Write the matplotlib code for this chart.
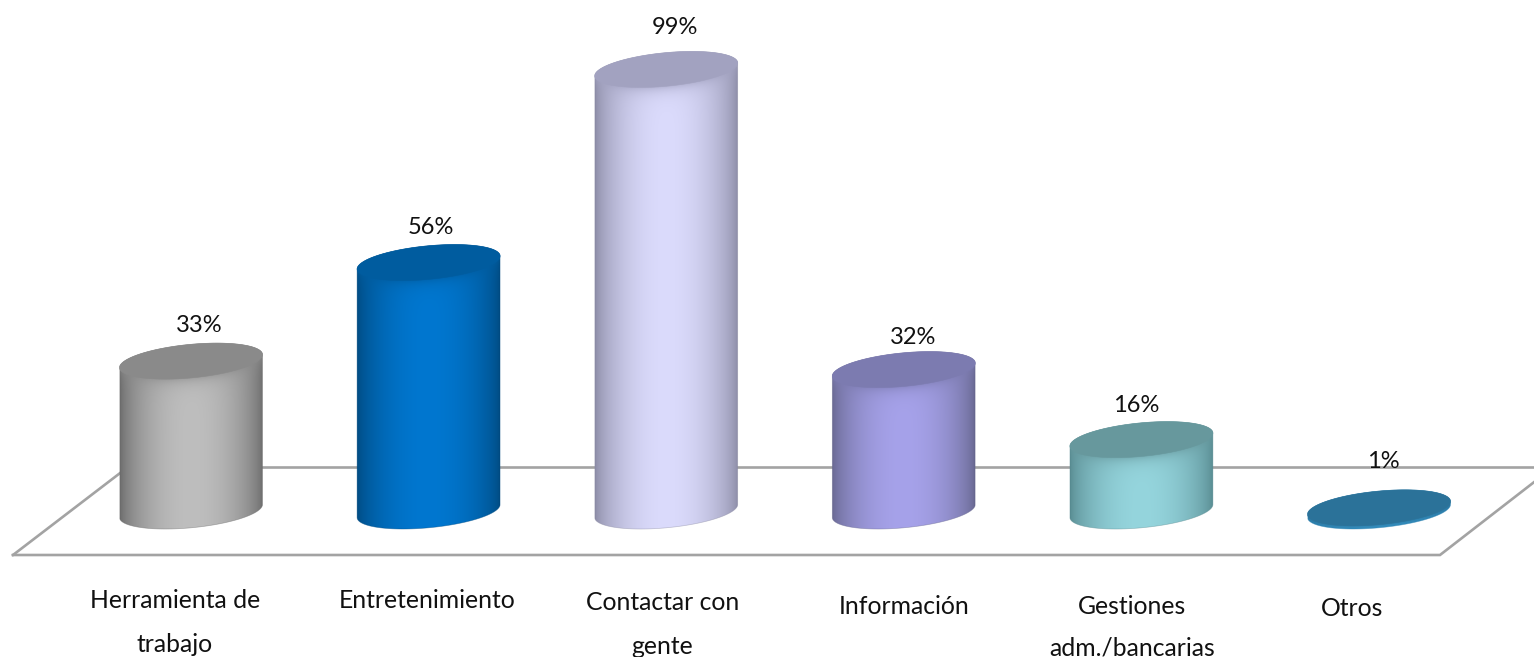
import numpy as np
import matplotlib
matplotlib.use("Agg")
import matplotlib.pyplot as plt
from matplotlib.colors import to_rgb
from matplotlib.patches import Polygon

categories = ["Herramienta de\ntrabajo", "Entretenimiento", "Contactar con\ngente",
              "Información", "Gestiones\nadm./bancarias", "Otros"]
values = [33.6, 55.7, 99, 31.7, 16, 0.7]
value_labels = ["33%", "56%", "99%", "32%", "16%", "1%"]

# styles
top_colors = ["#8a8a8a", "#005c9f", "#a2a2c0", "#7c7bb0", "#67989d", "#2b7299"]
edge_colors = ["#6a6a6a", "#004a80", "#8a8aa4", "#66668e", "#578a90", "#2a80b0"]
center_colors = ["#bebebe", "#0077d0", "#dbdbfc", "#a6a2ea", "#95d5dd", "#3aa0d6"]

# layout (pixels of the 1534x657 figure)
W, H = 1534, 657
X0, DX = 191.0, 237.6      # category 0 centre, category spacing
Y0, DY = 511.0, 4.46       # value 0 row, pixels per unit
label_dx = [8, 2, 9, 9, -5, 4]
label_py = [325, 228, 27, 338, 406, 461]
cat_dx = [-16, -1, -4, 0, -9, -27]
cat_py = [[600, 645], [601], [603, 646], [606], [607, 648], [608]]
FONT = "Lato"
FS_CAT = 17.8
FS_VAL = 17.0

fig = plt.figure(figsize=(W / 100, H / 100), dpi=100, facecolor="white")
ax = fig.add_axes([0, 0, 1, 1])
ax.axis("off")
xlim = ((0 - X0) / DX, (W - X0) / DX)
ylim = ((Y0 - H) / DY, (Y0 - 0) / DY)

px = lambda p: (p - X0) / DX
py = lambda p: (Y0 - p) / DY

# floor frame
line_c = "#a3a3a3"
lw = 1.9
ax.plot([px(13), px(1440), px(1560)], [py(555), py(555), py(462)], color=line_c, lw=lw, zorder=1,
        solid_joinstyle="miter")
ax.plot([px(13), px(128)], [py(555), py(467)], color=line_c, lw=lw, zorder=1)
ax.plot([px(128), px(1534)], [py(467), py(467)], color=line_c, lw=lw, zorder=1)

HALF = 71.5 / DX
TILT = 6.5 / DY
MINOR = 16.8 / DY
t = np.linspace(0, 2 * np.pi, 181)


def ell(i, v, tt):
    return i + HALF * np.cos(tt), v + TILT * np.cos(tt) + MINOR * np.sin(tt)


for i, v in enumerate(values):
    # horizontal shading of the side, with a soft shadow under the cap
    u = np.linspace(0, 1, 286)
    ylo, yhi = -MINOR * 2, v + MINOR * 2
    rows = np.linspace(yhi, ylo, max(int((yhi - ylo) * DY) + 1, 2))
    s = np.sin(np.pi * u) ** 0.65
    e, c, k = np.array(to_rgb(edge_colors[i])), np.array(to_rgb(center_colors[i])), np.array(to_rgb(top_colors[i]))
    rgb = e[None, :] + (c - e)[None, :] * s[:, None]
    img = np.repeat(rgb[None, :, :], len(rows), axis=0)
    theta_x = np.arccos(np.clip(2 * u - 1, -1, 1))
    low_edge = v + TILT * np.cos(theta_x) - MINOR * np.sin(theta_x)
    depth = np.clip((low_edge[None, :] - rows[:, None]) * DY, 0, None)
    a = 0.6 * np.exp(-depth / 7.0)[:, :, None]
    img = img * (1 - a) + k[None, None, :] * a

    lo = np.linspace(np.pi, 2 * np.pi, 91)
    bx, by = ell(i, 0, lo)
    tx, ty = ell(i, v, np.linspace(0, np.pi, 91))
    body = np.column_stack([np.r_[bx, tx], np.r_[by, ty]])
    poly = Polygon(body, closed=True, transform=ax.transData, fc="none", ec="none")
    ax.add_patch(poly)
    im = ax.imshow(img, aspect="auto", extent=(i - HALF, i + HALF, ylo, yhi), zorder=2,
                   interpolation="bilinear")
    im.set_clip_path(poly)
    ax.add_patch(Polygon(body, closed=True, fc="none", ec=edge_colors[i], lw=0.5, alpha=0.5, zorder=2.1))
    cx, cy = ell(i, v, t)
    ax.add_patch(Polygon(np.column_stack([cx, cy]), closed=True, fc=top_colors[i],
                         ec=top_colors[i], lw=0.4, zorder=3))
    ax.text(i + label_dx[i] / DX, py(label_py[i]), value_labels[i], ha="center", va="center",
            fontsize=FS_VAL, family=FONT, color="#111111", zorder=5)
    for line, row in zip(categories[i].split("\n"), cat_py[i]):
        ax.text(i + cat_dx[i] / DX, py(row), line, ha="center", va="center",
                fontsize=FS_CAT, family=FONT, color="#111111", zorder=5)

ax.set_xlim(*xlim)
ax.set_ylim(*ylim)
fig.savefig("out.png", dpi=100, facecolor="white")
